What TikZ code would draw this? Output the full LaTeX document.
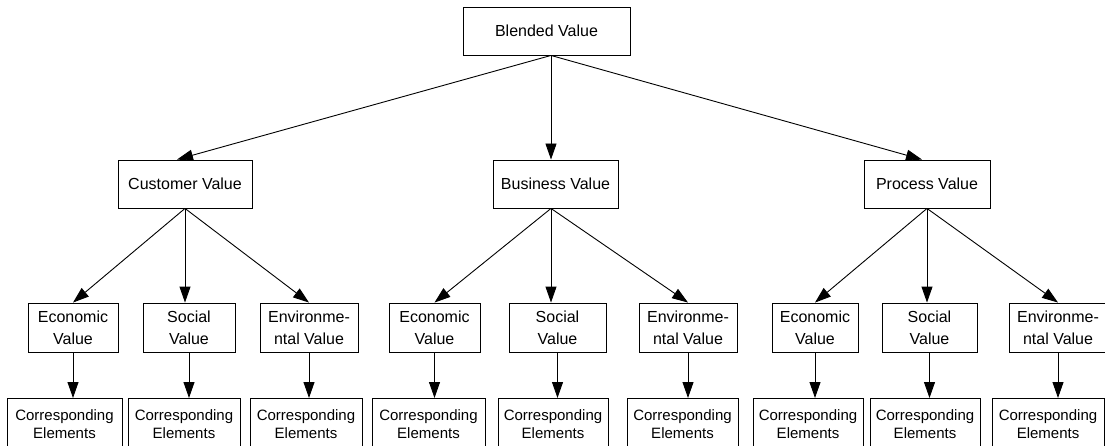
\documentclass[tikz,border=0pt]{standalone}
\usepackage{fontspec}
\setmainfont{Liberation Sans}
\usetikzlibrary{arrows.meta}
\begin{document}
\begin{tikzpicture}[x=1pt,y=-1pt,
  box/.style={draw=black, line width=0.9pt, inner sep=0pt, align=center,
    minimum height=48pt, font=\fontsize{16}{22}\selectfont},
  valbox/.style={box, minimum height=49pt},
  corrbox/.style={box, anchor=north, minimum height=60pt,
    font=\fontsize{15}{19.5}\selectfont},
  link/.style={line width=0.9pt, -{Triangle[length=16pt,width=11pt]}}]
\clip (0,0) rectangle (1105,446);

% top level
\node[box, minimum width=167pt] (bv) at (546.5,31) {Blended Value};

% second level
\node[box, minimum width=134pt] (cv) at (185,184) {Customer Value};
\node[box, minimum width=125pt] (bsv) at (555.5,184) {Business Value};
\node[box, minimum width=126pt] (pv) at (927,184) {Process Value};

% third level
\node[valbox, minimum width=90pt] (ce) at (73,327.5) {Economic\\Value};
\node[valbox, minimum width=92pt] (cs) at (189,327.5) {Social\\Value};
\node[valbox, minimum width=98pt] (cn) at (309,327.5) {Environme-\\ntal Value};
\node[valbox, minimum width=91pt] (be) at (434.5,327.5) {Economic\\Value};
\node[valbox, minimum width=97pt] (bs) at (557.5,327.5) {Social\\Value};
\node[valbox, minimum width=98pt] (bn) at (688,327.5) {Environme-\\ntal Value};
\node[valbox, minimum width=86pt] (pe) at (815,327.5) {Economic\\Value};
\node[valbox, minimum width=95pt] (ps) at (929.5,327.5) {Social\\Value};
\node[valbox, minimum width=98pt] (pn) at (1058,327.5) {Environme-\\ntal Value};

% bottom level
\newcommand{\corrtext}{\raisebox{8pt}{\shortstack{Corresponding\\[1pt]Elements}}}
\node[corrbox, minimum width=115pt] (cec) at (64.5,398) {\corrtext};
\node[corrbox, minimum width=112pt] (csc) at (184,398) {\corrtext};
\node[corrbox, minimum width=112pt] (cnc) at (306,398) {\corrtext};
\node[corrbox, minimum width=113pt] (bec) at (428.5,398) {\corrtext};
\node[corrbox, minimum width=110pt] (bsc) at (553,398) {\corrtext};
\node[corrbox, minimum width=111pt] (bnc) at (682.5,398) {\corrtext};
\node[corrbox, minimum width=110pt] (pec) at (808,398) {\corrtext};
\node[corrbox, minimum width=110pt] (psc) at (925,398) {\corrtext};
\node[corrbox, minimum width=112pt] (pnc) at (1048,398) {\corrtext};

% connectors: top level to the three value areas
\coordinate (bvout) at ([xshift=4.5pt]bv.south);
\coordinate (bsvport) at ([xshift=-4.5pt]bsv.south);
\draw[link] (bvout) -- ([xshift=-8pt]cv.north);
\draw[link] (bvout) -- (bvout |- bsv.north);
\draw[link] (bvout) -- ([xshift=-5pt]pv.north);

% value areas to their three kinds of value; the middle one drops straight down
\draw[link] (cv.south) -- (ce.north);
\draw[link] (cv.south) -- (cv.south |- cs.north);
\draw[link] (cv.south) -- (cn.north);
\draw[link] (bsvport) -- (be.north);
\draw[link] (bsvport) -- (bsvport |- bs.north);
\draw[link] (bsvport) -- (bn.north);
\draw[link] (pv.south) -- (pe.north);
\draw[link] (pv.south) -- (pv.south |- ps.north);
\draw[link] (pv.south) -- (pn.north);

% each kind of value to its corresponding elements
\foreach \v in {ce,cs,cn,be,bs,bn,pe,ps,pn}
  \draw[link] (\v.south) -- (\v.south |- \v c.north);
\end{tikzpicture}
\end{document}
